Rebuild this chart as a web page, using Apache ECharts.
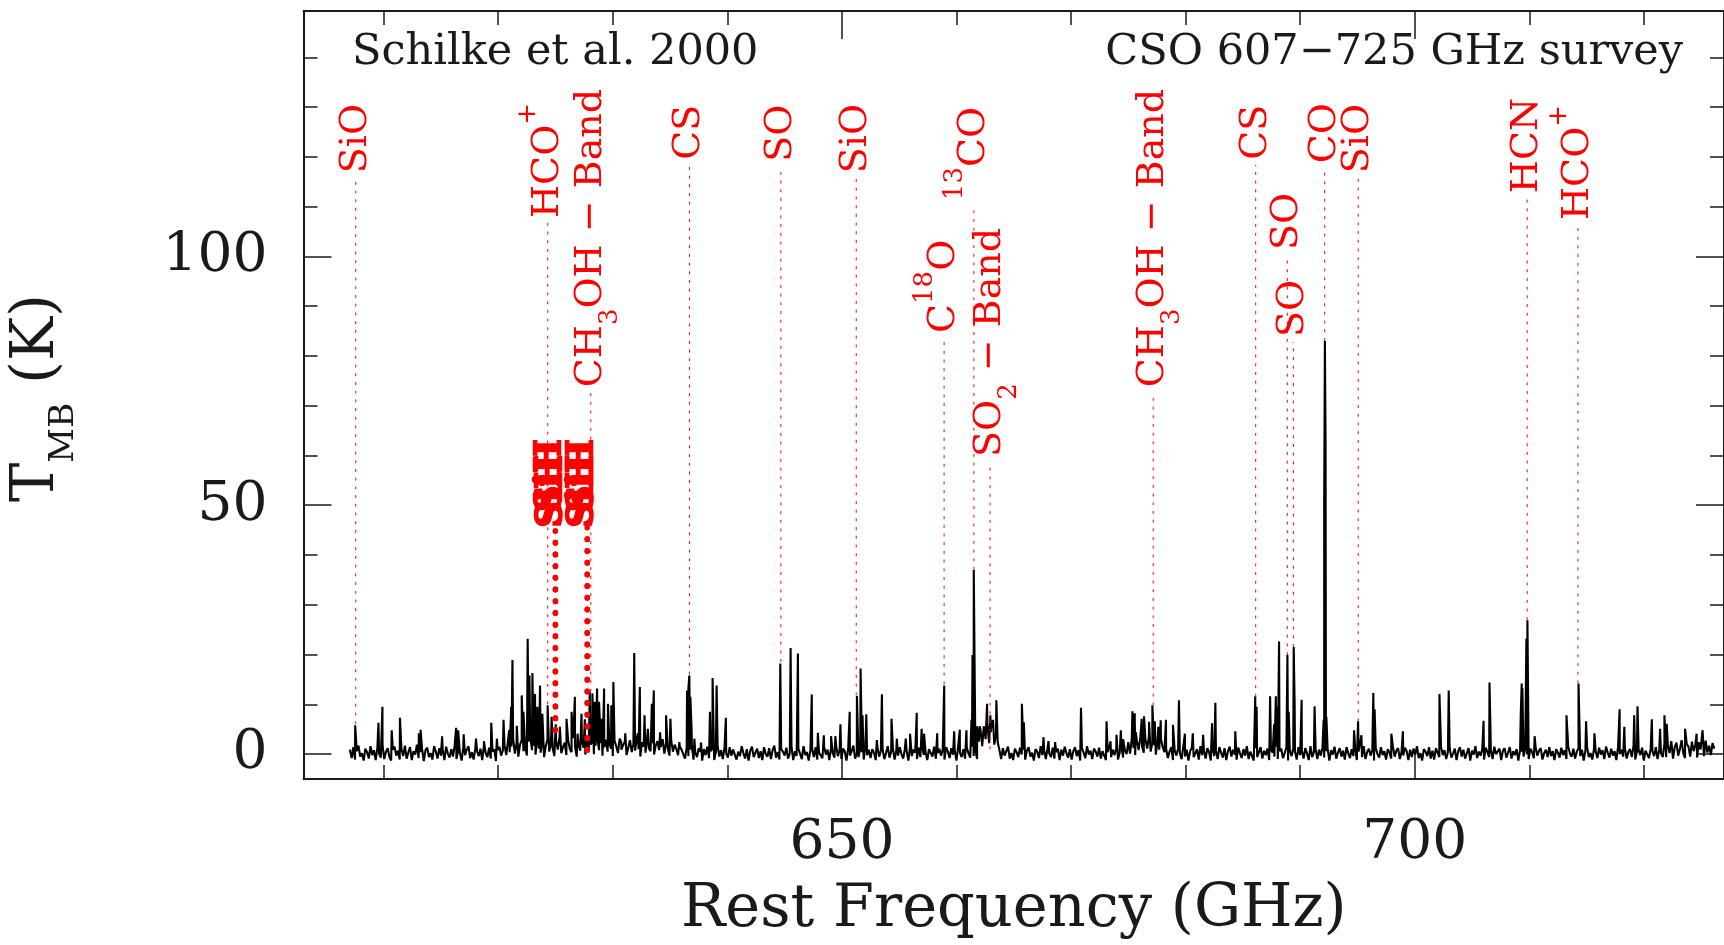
<!DOCTYPE html>
<html>
<head>
<meta charset="utf-8">
<title>CSO 607-725 GHz survey</title>
<script src="https://cdn.jsdelivr.net/npm/echarts@6/dist/echarts.min.js"></script>
<style>
html, body { margin: 0; padding: 0; background: #fff; }
#chart { width: 1724px; height: 945px; }
</style>
</head>
<body>
<div id="chart"></div>
<script>
// baseline channels: first one at 607.05 GHz, one every 0.15 GHz (T_MB in K)
var chanStart = 607.05;
var chanStep = 0.15;
var baseT = [
  0.9,-0.8,1.4,-1.1,0.6,1.7,-0.5,0.2,-1.3,1.1,0.4,-0.9,1.6,-0.2,0.8,
  -1.2,1.3,0.1,-0.7,1.8,-1.0,0.5,1.2,-0.6,-1.3,0.9,1.5,-0.3,0.7,-1.1,
  1.0,-0.4,1.7,-0.9,0.3,1.4,-1.2,0.6,-0.1,1.9,-0.8,0.4,1.1,-1.4,0.8,
  1.3,-0.6,0.2,-1.1,1.6,0.5,-0.9,1.2,-0.3,0.9,-1.2,1.5,0.1,-0.7,1.0,
  -0.5,1.8,-1.0,0.7,0.3,-1.3,1.4,-0.2,0.9,1.6,-0.8,0.4,-1.1,1.2,0.6,
  -0.4,1.1,-1.2,1.7,0.2,-0.6,1.3,-0.9,0.5,1.0,-1.4,0.8,1.5,-0.3,0.7,
  // 620.5 - 636.2 line forest
  1.8,-0.2,2.6,0.4,1.5,3.1,0.1,2.2,-0.5,1.9,2.8,0.6,1.3,-0.3,2.5,
  3.3,0.8,1.7,-0.1,2.9,1.1,0.3,2.4,-0.6,1.6,3.0,0.5,2.0,1.2,-0.4,
  2.7,0.9,3.4,0.2,1.4,2.3,-0.2,2.8,1.0,0.4,3.2,1.5,-0.5,2.1,0.7,
  2.6,1.3,-0.1,3.0,0.6,1.9,2.4,0.0,1.7,3.3,0.8,2.2,-0.3,1.4,2.9,
  0.5,2.0,1.1,-0.4,2.7,1.6,0.2,3.1,0.9,1.8,2.5,-0.2,1.3,2.8,0.4,
  2.1,0.7,3.2,1.0,-0.5,2.4,1.5,0.3,2.9,1.2,0.6,2.2,-0.1,1.7,2.6,
  0.8,1.4,3.0,0.1,2.3,1.1,-0.3,2.7,0.5,1.9,1.0,-0.2,1.5,0.9,
  // 636.2 - 662.0
  0.7,-0.9,1.3,-0.4,0.9,1.6,-1.1,0.3,-0.6,1.2,0.5,-1.3,1.0,-0.2,1.5,
  -0.8,0.6,1.1,-1.2,0.4,1.7,-0.5,0.8,-1.0,1.3,0.1,-0.7,1.4,-0.3,0.9,
  1.2,-1.1,0.5,-0.4,1.6,0.2,-0.9,1.0,-1.3,0.7,1.5,-0.6,0.3,1.1,-0.8,
  0.6,-1.2,1.4,0.0,-0.5,1.2,-1.0,0.8,1.7,-0.7,0.4,-1.1,1.0,0.5,-0.3,
  1.3,-0.9,0.2,1.5,-1.2,0.6,-0.4,1.1,0.9,-1.0,1.6,-0.2,0.4,-1.3,0.8,
  1.0,-0.6,1.4,-1.1,0.3,0.7,-0.8,1.5,-0.1,0.9,-1.2,1.2,0.2,-0.7,1.6,
  -0.4,0.8,-1.0,1.1,0.5,-1.3,1.3,-0.3,0.6,1.7,-0.9,0.1,-0.6,1.2,0.4,
  -1.1,1.5,-0.2,0.9,-0.8,1.0,0.3,-1.2,1.4,-0.5,0.7,1.1,-1.0,0.2,1.6,
  -0.7,0.5,1.2,-1.1,0.8,-0.3,1.4,0.0,-0.9,1.1,0.6,-1.3,1.5,-0.4,0.9,
  0.3,-1.0,1.3,-0.6,1.7,-0.2,0.4,-1.2,1.0,0.8,-0.5,1.5,-0.9,0.2,1.1,
  -0.3,0.9,-1.1,1.4,0.5,-0.8,1.2,-0.1,0.7,-1.3,1.6,0.3,-0.6,1.0,-0.9,
  1.3,0.1,-0.7,1.5,-0.4,0.8,-1.0,
  // SO2 band
  2.5,4.8,1.6,5.3,3.0,6.1,2.2,4.4,5.6,1.9,3.8,2.4,
  // 663.8 - 675.0
  0.8,-1.0,1.2,-0.3,0.6,1.5,-0.9,0.2,-1.2,1.1,0.4,-0.6,1.3,-0.1,0.9,
  -1.1,0.7,1.4,-0.5,0.3,-1.3,1.0,0.5,-0.8,1.6,-0.2,0.8,-1.0,1.2,0.1,
  -0.6,1.3,-0.9,0.4,1.1,-1.2,0.9,-0.3,1.5,0.2,-0.7,1.0,-1.1,0.6,1.4,
  -0.4,0.8,-1.3,1.2,0.3,-0.8,1.6,-0.1,0.7,-1.0,1.1,0.5,-0.5,1.3,-0.9,
  0.6,1.0,-1.2,0.4,1.5,-0.6,0.9,-0.2,1.2,-1.1,0.3,1.4,-0.7,0.8,0.0,
  // CH3OH band
  2.4,0.1,3.0,1.2,-0.2,2.7,0.8,3.4,1.6,0.3,2.9,1.1,3.6,0.5,2.2,1.8,-0.1,2.6,0.9,3.1,1.4,0.4,
  // 678.3 - 720.0
  1.1,-0.8,0.5,1.4,-1.2,0.7,-0.3,1.2,0.2,-1.0,1.5,-0.5,0.9,-1.3,0.6,
  1.3,-0.6,0.1,1.0,-1.1,1.6,-0.2,0.8,-0.9,1.2,0.4,-1.3,1.1,-0.4,0.7,
  -1.0,1.4,0.3,-0.7,1.2,-1.2,0.6,1.5,-0.5,0.9,-0.1,-1.1,1.3,0.2,-0.8,
  1.0,-0.3,1.6,-1.0,0.5,0.8,-1.3,1.2,-0.6,0.4,1.4,-0.9,0.7,-0.2,1.1,
  -1.2,0.9,0.3,-0.5,1.5,-1.0,0.6,1.1,-0.8,0.2,1.3,-1.3,0.8,-0.4,1.0,
  0.5,-1.1,1.4,-0.2,0.7,-0.9,1.2,0.1,-1.2,1.6,-0.6,0.4,1.0,-1.0,0.9,
  -0.3,1.3,-0.7,0.6,1.1,-1.3,0.8,-0.1,1.5,-0.9,0.3,1.2,-0.5,0.7,-1.1,
  1.4,0.2,-0.8,1.0,-0.4,1.3,-1.2,0.5,0.9,-0.6,1.6,-1.0,0.4,1.1,-0.3,
  0.8,-1.3,1.2,0.0,-0.7,1.4,-0.2,0.6,-1.1,1.0,0.3,-0.9,1.5,-0.5,0.7,
  1.2,-1.0,0.4,-0.3,1.3,0.6,-1.2,0.9,-0.6,1.1,-0.1,1.6,-0.8,0.2,-1.3,
  1.0,0.5,-0.4,1.4,-0.9,0.7,-1.1,1.2,0.3,-0.6,1.5,-0.2,0.8,-1.0,0.4,
  1.3,-0.7,0.1,1.1,-1.2,0.6,1.4,-0.5,0.9,-0.9,0.2,1.2,-1.3,0.7,-0.1,
  1.6,-0.8,0.5,-0.3,1.0,-1.1,1.3,0.4,-0.6,0.8,-1.0,1.5,0.0,-0.4,1.1,
  -1.2,0.7,1.2,-0.7,0.3,1.4,-0.9,0.6,-0.2,1.0,-1.3,0.9,0.5,-0.5,1.3,
  -0.1,-1.0,1.1,0.4,-0.8,1.5,-0.3,0.7,1.2,-1.1,0.2,0.9,-0.6,1.4,-0.4,
  0.6,-1.2,1.0,0.3,-0.7,1.3,-0.2,0.8,-1.0,1.6,0.1,-0.5,1.1,-0.9,0.5,
  1.2,-0.4,0.9,-1.3,0.7,1.4,-0.6,0.2,-1.1,1.0,0.5,-0.8,1.3,-0.1,0.8,
  -1.0,1.5,0.3,-0.7,1.1,-0.3,0.6,-1.2,1.4,0.0,0.9,-0.5,1.2,-0.9,0.4,
  1.0,-0.6,1.6,-1.1,0.5,0.8,-0.2,1.3,-1.3,0.7,0.3,-0.8,1.1,0.6,-0.4,
  1.4,-1.0,0.9,0.2,-0.6,
  // 720 - 726.2
  2.1,-0.6,1.8,0.2,2.6,-0.9,1.4,2.3,-0.3,1.0,2.8,0.1,-0.8,2.0,1.5,
  -0.5,2.5,0.6,1.9,-0.7,2.4,0.9,1.2,-0.4,2.7,0.3,1.7,-0.2,2.2,1.1
];

// emission line peaks
var peakFreq = [
  607.51,609.54,609.89,610.70,611.42,613.07,613.22,615.10,616.32,616.50,616.98,618.06,618.75,619.39,619.88,
  620.46,620.95,621.13,621.24,621.62,622.05,622.20,622.57,622.72,622.98,623.21,623.41,623.65,623.85,624.31,
  624.66,625.02,625.38,625.96,626.40,626.69,626.92,627.27,627.56,627.99,628.22,628.43,628.63,628.80,629.00,
  629.24,629.58,629.87,630.05,630.74,631.09,631.87,632.19,632.36,632.77,633.06,633.41,633.58,634.13,634.65,
  635.03,635.81,636.48,636.60,636.68,636.77,636.88,637.12,637.70,638.48,638.71,639.06,639.87,
  644.62,645.52,646.16,647.37,647.90,648.42,649.05,649.43,649.87,650.68,651.31,651.63,651.80,652.13,653.05,
  653.49,654.33,654.79,655.57,655.95,656.53,656.96,657.17,658.32,658.93,659.80,660.29,660.87,661.31,661.40,
  661.51,661.80,662.03,662.38,662.67,662.80,662.96,663.10,663.19,663.48,665.71,665.88,667.60,668.03,668.61,
  670.87,673.10,673.45,673.97,674.35,674.55,675.36,675.56,675.65,676.17,676.37,676.81,677.10,677.31,677.62,
  677.83,678.29,678.90,679.42,679.94,680.63,681.53,682.31,682.60,684.34,686.08,686.20,687.38,687.73,687.88,
  688.00,688.16,688.89,689.00,689.44,689.52,690.13,691.26,692.05,692.10,692.16,692.22,692.29,692.37,694.71,
  695.06,695.35,696.39,696.50,697.96,698.97,702.16,702.97,706.01,706.53,709.26,709.34,709.40,709.75,709.84,
  710.47,713.25,714.30,714.96,715.69,717.89,718.30,719.16,719.45,720.70,721.42,721.80,722.00,723.60,724.61,
  725.13
];
var peakT = [
  5.8,6.3,9.5,4.8,7.3,4.2,4.9,3.6,5.3,4.8,4.0,3.1,2.6,6.3,3.1,
  6.9,4.8,9.5,18.9,5.7,11.8,8.5,23.2,15.8,16.3,12.1,9.5,13.8,8.1,9.8,
  7.5,6.0,5.5,7.1,8.5,11.5,4.1,8.1,7.0,12.5,12.2,10.5,13.2,10.5,7.1,
  13.2,10.1,9.8,14.5,2.4,4.2,20.3,4.2,13.5,7.8,5.1,10.1,12.8,4.4,7.8,
  7.1,2.4,12.8,13.2,15.8,11.5,4.8,3.1,2.3,8.5,15.3,13.8,7.3,
  18.2,21.3,20.2,12.0,4.3,3.8,3.6,3.6,6.0,8.5,11.7,17.2,7.8,8.0,2.8,
  12.0,7.1,3.1,3.1,4.1,8.3,5.1,4.1,4.2,13.8,4.6,4.9,4.8,6.9,19.9,
  37.0,5.6,5.6,5.6,10.1,6.5,7.8,6.8,6.9,10.8,10.1,6.4,3.4,2.6,2.4,
  9.3,6.6,2.6,3.9,4.8,3.0,8.6,8.2,4.4,7.1,7.6,6.5,9.8,6.6,5.5,
  6.8,6.9,5.9,10.8,4.1,4.2,3.9,6.2,10.3,4.6,11.6,9.5,11.6,6.0,11.6,
  9.5,22.6,19.9,8.5,21.5,10.0,10.9,9.6,6.9,51.0,83.0,62.0,7.5,7.4,4.8,
  6.6,3.8,12.3,9.0,4.1,4.6,12.1,12.8,6.7,14.4,8.1,14.2,13.3,23.2,26.9,
  3.6,7.8,14.2,6.6,4.2,9.0,5.5,7.8,9.6,7.0,5.1,7.8,6.1,5.1,4.1,
  4.8
];

// line identifications: frequency, label, where the label starts (K), where the dotted line stops (K)
var markFreq = [607.56, 624.32, 628.08, 636.69, 644.67, 651.25, 658.92, 661.52, 662.93,
                677.17, 686.12, 688.88, 689.41, 692.14, 695.07, 709.82, 714.25];
var markText = ['{m|SiO}', '{m|HCO}{sup|+}', '{m|CH}{sub|3}{m|OH − Band}', '{m|CS}', '{m|SO}', '{m|SiO}',
                '{m|C}{sup|18}{m|O}', '{sup|13}{m|CO}', '{m|SO}{sub|2}{m| − Band}',
                '{m|CH}{sub|3}{m|OH − Band}', '{m|CS}', '{m|SO}', '{m|SO}', '{m|CO}', '{m|SiO}',
                '{m|HCN}', '{m|HCO}{sup|+}'];
var markTop = [116.7, 107.7, 73.7, 119.4, 119.0, 116.7, 84.6, 111.3, 59.7,
               73.7, 119.4, 101.3, 83.8, 118.7, 116.7, 112.7, 107.3];
var markEnd = [6, 10, 12.5, 16, 18.5, 11.8, 14, 37, 1,
               9.8, 11.5, 19.9, 21.5, 83, 6.6, 26.9, 14.2];

// SiH (bold marks)
var sihFreq = [625.00, 624.98, 627.78, 627.76];
var sihTop = [45.6, 48.8, 45.6, 48.8];
var sihEnd = [4.8, 4.8, 0.8, 0.8];

var xTicks = [610, 620, 630, 640, 650, 660, 670, 680, 690, 700, 710, 720];
var xMajor = [650, 700];
var yTicks = [0, 10, 20, 30, 40, 50, 60, 70, 80, 90, 100, 110, 120, 130, 140];
var yMajor = [0, 50, 100];

var RED = '#ff0000';
var INK = '#1a1a1a';
var FONT = 'DejaVu Serif';

var spectrum = baseT.map(function (t, i) {
  return [+(chanStart + i * chanStep).toFixed(2), t];
});
peakFreq.forEach(function (f, i) { spectrum.push([f, peakT[i]]); });
spectrum.sort(function (a, b) { return a[0] - b[0]; });

var markRich = {
  m: { fill: RED, fontSize: 38, fontFamily: FONT, lineHeight: 64 },
  sup: { fill: RED, fontSize: 26, fontFamily: FONT, verticalAlign: 'top' },
  sub: { fill: RED, fontSize: 26, fontFamily: FONT, verticalAlign: 'bottom' }
};

function renderMark(params, api) {
  var f = api.value(0);
  var pTop = api.coord([f, api.value(1)]);
  var pEnd = api.coord([f, api.value(2)]);
  return {
    type: 'group',
    children: [
      {
        type: 'line',
        shape: { x1: pEnd[0], y1: pEnd[1], x2: pEnd[0], y2: pTop[1] + 5 },
        style: { stroke: RED, lineWidth: 1, lineDash: [3, 5.7] }
      },
      {
        type: 'text',
        x: pTop[0], y: pTop[1], rotation: Math.PI / 2,
        style: { text: markText[params.dataIndex], rich: markRich, align: 'left', verticalAlign: 'middle' }
      }
    ]
  };
}

function renderSiH(params, api) {
  var f = api.value(0);
  var pTop = api.coord([f, api.value(1)]);
  var pEnd = api.coord([f, api.value(2)]);
  return {
    type: 'group',
    children: [
      {
        type: 'line',
        shape: { x1: pEnd[0], y1: pEnd[1], x2: pEnd[0], y2: pTop[1] + 9 },
        style: { stroke: RED, lineWidth: 5.5, lineDash: [0.5, 11.2], lineCap: 'round' }
      },
      {
        type: 'text',
        x: pTop[0] - 4, y: pTop[1], rotation: Math.PI / 2,
        style: { text: 'SiH', fill: RED, stroke: RED, lineWidth: 2.5, fontSize: 35, fontWeight: 'bold',
                 fontFamily: FONT, align: 'left', verticalAlign: 'middle' }
      }
    ]
  };
}

var tickLine = { color: INK, width: 1.5 };
var frameLine = { color: INK, width: 2 };
var labelFont = { fontSize: 55, fontFamily: FONT, color: INK, lineHeight: 56 };

function xAxisDef(pos, ticks, len, withLine) {
  return {
    type: 'value', min: 603, max: 727, position: pos,
    axisLine: { show: withLine, onZero: false, lineStyle: frameLine },
    axisTick: { show: true, inside: true, length: len, customValues: ticks, lineStyle: tickLine },
    axisLabel: { show: false },
    splitLine: { show: false }
  };
}
function yAxisDef(pos, ticks, len, withLine) {
  return {
    type: 'value', min: -5, max: 149.3, position: pos,
    axisLine: { show: withLine, onZero: false, lineStyle: frameLine },
    axisTick: { show: true, inside: true, length: len, customValues: ticks, lineStyle: tickLine },
    axisLabel: { show: false },
    splitLine: { show: false }
  };
}

var xMain = xAxisDef('bottom', xTicks, 14, true);
xMain.axisLabel = Object.assign({ show: true, customValues: xMajor, margin: 37 }, labelFont);
xMain.name = 'Rest Frequency (GHz)';
xMain.nameLocation = 'middle';
xMain.nameGap = 102;
xMain.nameTextStyle = { fontSize: 59, fontFamily: FONT, color: INK, lineHeight: 59 };

var yMain = yAxisDef('left', yTicks, 14, true);
yMain.axisLabel = Object.assign({ show: true, customValues: yMajor, margin: 36 }, labelFont);

var chart = echarts.init(document.getElementById('chart'));
chart.setOption({
  animation: false,
  backgroundColor: '#fff',
  textStyle: { fontFamily: FONT },
  grid: { left: 303.5, right: -7, top: 11, bottom: 166, containLabel: false },
  xAxis: [
    xMain,
    xAxisDef('bottom', xMajor, 28, false),
    xAxisDef('top', xTicks, 14, true),
    xAxisDef('top', xMajor, 28, false)
  ],
  yAxis: [
    yMain,
    yAxisDef('left', yMajor, 28, false),
    yAxisDef('right', yTicks, 14, true),
    yAxisDef('right', yMajor, 28, false)
  ],
  graphic: [
    {
      type: 'text', x: 352, y: 52.5,
      style: { text: 'Schilke et al. 2000', fontSize: 43, fontFamily: FONT, fill: INK,
               align: 'left', verticalAlign: 'middle' }
    },
    {
      type: 'text', x: 1683, y: 52.5,
      style: { text: 'CSO 607−725 GHz survey', fontSize: 43, fontFamily: FONT, fill: INK,
               align: 'right', verticalAlign: 'middle' }
    },
    {
      type: 'text', x: 38, y: 398, rotation: Math.PI / 2,
      style: {
        text: '{m|T}{s|MB}{m| (K)}', align: 'center', verticalAlign: 'middle',
        rich: {
          m: { fill: INK, fontSize: 59, fontFamily: FONT, lineHeight: 86 },
          s: { fill: INK, fontSize: 34, fontFamily: FONT, verticalAlign: 'bottom' }
        }
      }
    }
  ],
  series: [
    {
      type: 'line',
      data: spectrum,
      showSymbol: false,
      symbol: 'none',
      silent: true,
      lineStyle: { color: '#000', width: 2.1 },
      z: 2
    },
    {
      type: 'custom',
      data: markFreq.map(function (f, i) { return [f, markTop[i], markEnd[i]]; }),
      renderItem: renderMark,
      silent: true,
      clip: false,
      z: 4
    },
    {
      type: 'custom',
      data: sihFreq.map(function (f, i) { return [f, sihTop[i], sihEnd[i]]; }),
      renderItem: renderSiH,
      silent: true,
      clip: false,
      z: 5
    }
  ]
});
</script>
</body>
</html>
